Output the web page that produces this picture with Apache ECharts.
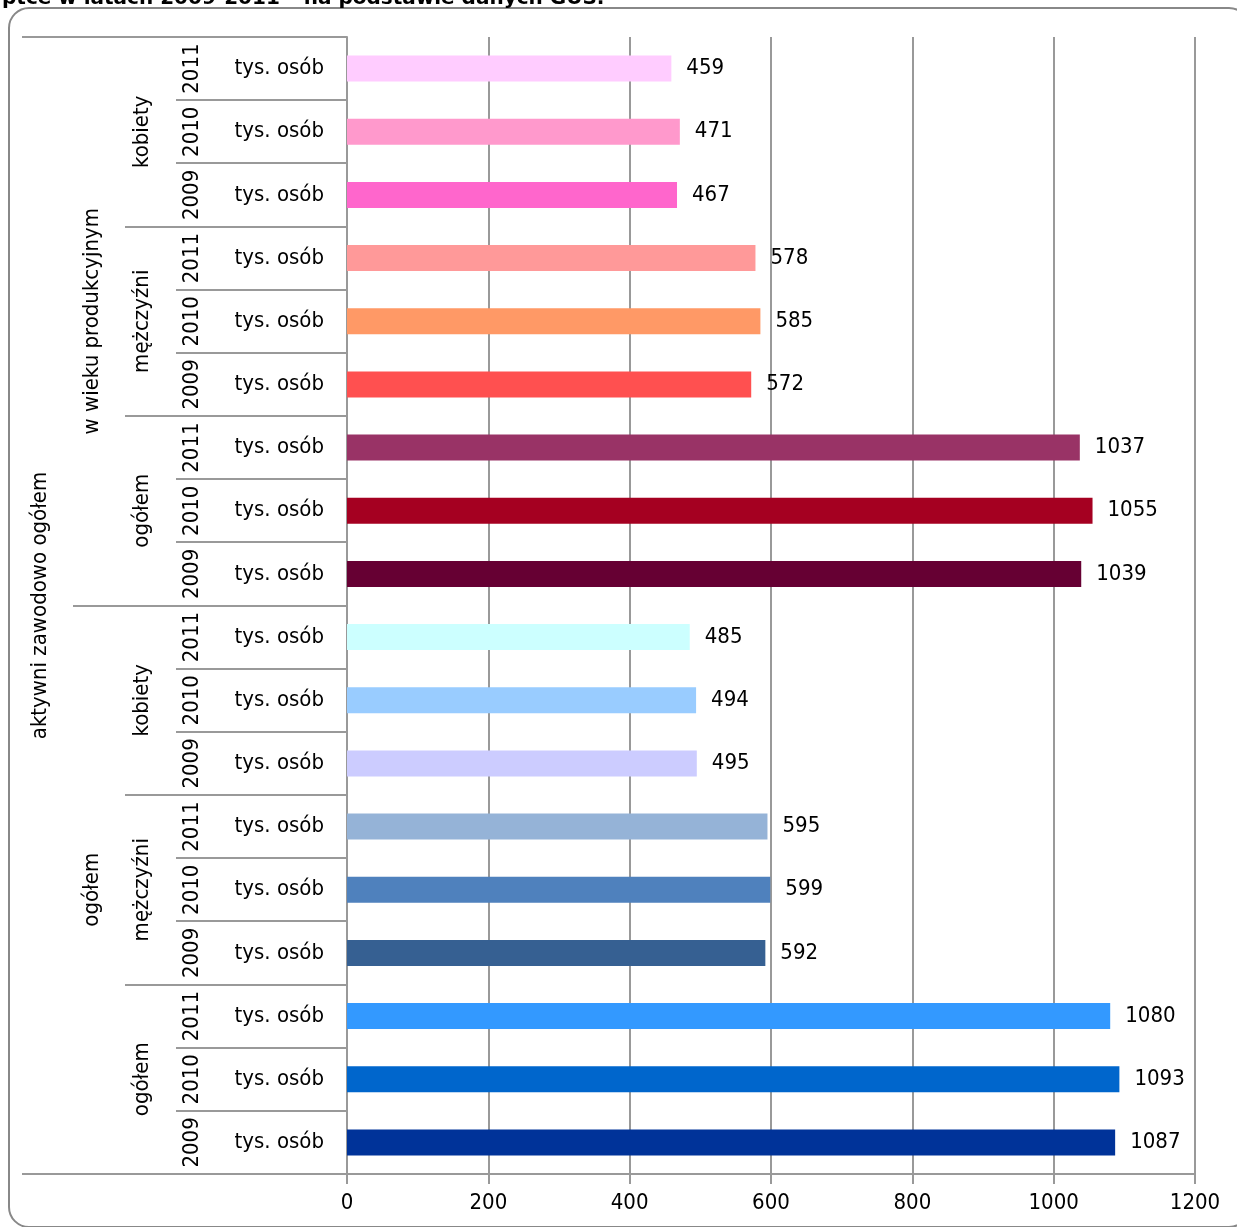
<!DOCTYPE html>
<html><head><meta charset="utf-8">
<script src="https://cdn.jsdelivr.net/npm/echarts@6/dist/echarts.min.js"></script>
<style>html,body{margin:0;padding:0;background:#fff}#c{width:1237px;height:1227px}</style>
</head><body><div id="c"></div>
<script>
const titleText = 'ptce w latach 2009-2011 – na podstawie danych GUS.';
const unitLabel = 'tys. osób';
const years = ['2011', '2010', '2009'];
const sexes = ['kobiety', 'mężczyźni', 'ogółem'];
const ageGroups = ['w wieku produkcyjnym', 'ogółem'];
const topGroup = 'aktywni zawodowo ogółem';
const values = [459, 471, 467, 578, 585, 572, 1037, 1055, 1039, 485, 494, 495, 595, 599, 592, 1080, 1093, 1087];
const colors = ['#FFCCFF', '#FF99CC', '#FF66CC', '#FF9999', '#FF9966', '#FF5050', '#993366', '#A50021', '#660033',
                '#CCFFFF', '#99CCFF', '#CCCCFF', '#95B3D7', '#4F81BD', '#366092', '#3399FF', '#0066CC', '#003399'];
const xMin = 0, xMax = 1200, xStep = 200;

const categories = [];
ageGroups.forEach(a => sexes.forEach(s => years.forEach(y => categories.push(a + '|' + s + '|' + y))));

const FONT = '"DejaVu Sans Condensed", "DejaVu Sans", sans-serif';
const FS = 22;
const chart = echarts.init(document.getElementById('c'), null, {renderer: 'canvas'});
const grid = {left: 347, right: 42, top: 37, bottom: 53};
chart.setOption({
  animation: false,
  backgroundColor: '#fff',
  textStyle: {fontFamily: FONT},
  grid: grid,
  xAxis: {
    type: 'value', min: xMin, max: xMax, interval: xStep,
    axisLine: {show: true, lineStyle: {color: '#999', width: 2}},
    axisTick: {show: true, length: 10, lineStyle: {color: '#999', width: 2}},
    axisLabel: {color: '#000', fontSize: FS, fontFamily: FONT, margin: 18, formatter: v => String(v)},
    splitLine: {show: true, lineStyle: {color: '#999', width: 2}}
  },
  yAxis: {
    type: 'category', inverse: true, data: categories,
    axisLine: {show: true, lineStyle: {color: '#999', width: 2}},
    axisTick: {show: false},
    axisLabel: {color: '#000', fontSize: FS, fontFamily: FONT, margin: 23, formatter: () => unitLabel}
  },
  series: [{
    type: 'bar', barWidth: 26,
    data: values.map((v, i) => ({value: v, itemStyle: {color: colors[i]}})),
    label: {show: true, position: 'right', distance: 15, color: '#000', fontSize: FS, fontFamily: FONT}
  }]
});

const p0 = chart.convertToPixel({gridIndex: 0}, [0, 0]);
const p1 = chart.convertToPixel({gridIndex: 0}, [0, 1]);
const axisX = p0[0];
const band = p1[1] - p0[1];
const top0 = p0[1] - band / 2;
const N = categories.length;
const startX = {1: 176, 2: 125, 3: 73, 4: 22};
const g = [];
for (let k = 0; k <= N; k++) {
  const lvl = (k % N === 0) ? 4 : (k % 9 === 0) ? 3 : (k % 3 === 0) ? 2 : 1;
  const y = Math.round(top0 + k * band);
  g.push({type: 'line', shape: {x1: startX[lvl], y1: y, x2: axisX, y2: y}, style: {stroke: '#999', lineWidth: 2}, z: 10});
}
function vtext(txt, x, y) {
  g.push({type: 'text', x: x, y: y, rotation: Math.PI / 2,
    style: {text: txt, fill: '#000', font: FS + 'px ' + FONT, textAlign: 'center', textVerticalAlign: 'middle'}, z: 10});
}
for (let i = 0; i < N; i++) vtext(years[i % 3], 192, top0 + (i + 0.5) * band);
for (let j = 0; j < N / 3; j++) vtext(sexes[j % 3], 142, top0 + (j * 3 + 1.5) * band);
for (let j = 0; j < N / 9; j++) vtext(ageGroups[j], 92, top0 + (j * 9 + 4.5) * band);
vtext(topGroup, 40, top0 + N / 2 * band);
g.push({type: 'rect', shape: {x: 9, y: 8, width: 1240, height: 1219, r: 20}, style: {fill: 'none', stroke: '#888', lineWidth: 2}, z: 5});
g.push({type: 'text', x: 2, y: 9, style: {text: titleText, fill: '#000', font: 'bold 20px "DejaVu Sans", sans-serif', textAlign: 'left', textVerticalAlign: 'bottom'}, z: 10});
chart.setOption({graphic: g});
</script>
</body></html>
